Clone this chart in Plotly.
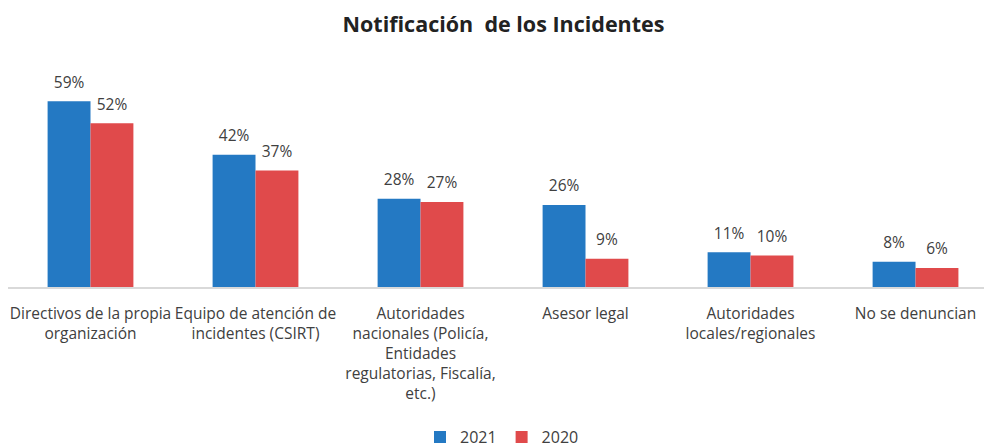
import plotly.graph_objects as go

categories = [
    "Directivos de la propia<br>organización",
    "Equipo de atención de<br>incidentes (CSIRT)",
    "Autoridades<br>nacionales (Policía,<br>Entidades<br>regulatorias, Fiscalía,<br>etc.)",
    "Asesor legal",
    "Autoridades<br>locales/regionales",
    "No se denuncian",
]
values_2021 = [59, 42, 28, 26, 11, 8]
values_2020 = [52, 37, 27, 9, 10, 6]
series_names = ["2021", "2020"]

BLUE = "#2479C3"
RED = "#E04A4B"
TXT = "#404040"
FONT = "Open Sans, Noto Sans, sans-serif"

fig = go.Figure()
series = [(series_names[0], values_2021, BLUE), (series_names[1], values_2020, RED)]
for name, vals, col in series:
    fig.add_trace(go.Bar(
        x=categories, y=vals, name=name, offsetgroup=name,
        marker=dict(color=col, line=dict(width=0)),
    ))
for name, vals, col in series:
    fig.add_trace(go.Scatter(
        x=categories, y=vals, offsetgroup=name, mode="markers+text",
        marker=dict(size=14, opacity=0), showlegend=False, hoverinfo="skip",
        text=[f"{v}%" for v in vals], textposition="top center",
        textfont=dict(size=15.5, color=TXT, family=FONT), cliponaxis=False,
    ))

fig.update_layout(
    width=992, height=447,
    barmode="group", bargap=0.48, bargroupgap=0,
    scattermode="group", scattergap=0.48,
    paper_bgcolor="white", plot_bgcolor="white",
    margin=dict(l=0, r=0, t=67, b=168, autoexpand=False),
    title=dict(text="<b>Notificación  de los Incidentes</b>", x=0.4995, xanchor="center",
               y=0.963, yanchor="middle", font=dict(size=21.5, color="#222222", family=FONT)),
    font=dict(family=FONT, color=TXT),
    legend=dict(orientation="h", x=0.498, xanchor="center", y=-0.708, yanchor="middle",
                font=dict(size=16, color=TXT), itemwidth=30, traceorder="normal"),
)
fig.update_xaxes(showline=True, linecolor="#D9D9D9", linewidth=2, ticks="",
                 range=[-0.5, 5.512], ticklabelstandoff=11,
                 tickfont=dict(size=15.5, color=TXT, family=FONT), showgrid=False)
fig.update_yaxes(range=[0, 67.3], visible=False, showgrid=False)

fig.write_html("out.html")
